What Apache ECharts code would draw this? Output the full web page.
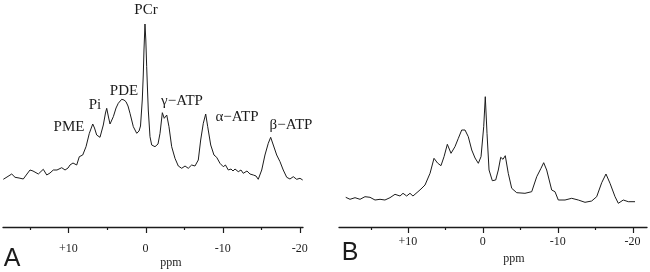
<!DOCTYPE html>
<html>
<head>
<meta charset="utf-8">
<script src="https://cdn.jsdelivr.net/npm/echarts@6/dist/echarts.min.js"></script>
<style>html,body{margin:0;padding:0;background:#fff;}#c{width:650px;height:272px;}</style>
</head>
<body>
<div id="c"></div>
<script>
// Panel A spectrum (chemical shift in ppm, intensity in arbitrary units)
var ppmA = [18.43,17.95,17.34,16.91,16.39,15.84,15.36,14.97,14.58,13.89,13.25,12.80,12.38,11.95,11.47,10.86,10.43,10.04,9.79,9.40,8.92,8.58,8.14,7.71,7.28,6.84,6.61,6.33,5.90,5.47,5.19,5.03,4.80,4.60,4.17,3.82,3.53,3.09,2.79,2.53,2.27,2.01,1.58,1.14,0.84,0.65,0.42,0.29,0.20,0.07,-0.04,-0.15,-0.26,-0.36,-0.58,-0.80,-1.23,-1.62,-1.88,-2.18,-2.43,-2.75,-3.04,-3.39,-3.82,-4.25,-4.69,-5.12,-5.54,-5.98,-6.41,-6.84,-7.15,-7.49,-7.80,-8.06,-8.45,-8.62,-8.87,-9.22,-9.39,-9.65,-10.08,-10.36,-10.73,-11.08,-11.34,-11.60,-12.02,-12.37,-12.67,-13.15,-13.54,-13.97,-14.32,-14.61,-15.06,-15.48,-15.91,-16.22,-16.56,-17.00,-17.17,-17.43,-17.85,-18.30,-18.72,-19.15,-19.59,-20.02,-20.37];
var intA = [47.7,50,53,49.7,49,48,53,57,56,53,57.7,52,54,57,57,59.3,57,59,62,64,62,70.3,72,80.3,93.7,103,99,92,89.7,102,114,118.7,110,103,110.3,119,123.7,127.7,127,125.3,121,113.7,100.3,93.7,96,101,127,152,177,203,187,160.3,137,117,90.3,82,80.3,83,93.7,114.3,108.7,112,100.3,80.3,68.7,61,58.7,61,58.7,62,61,67,87,103.7,113,100.3,82,78,72,69.7,71,63.7,60.3,62,57,58,56,58,55.3,57,53.7,56,53,52,51,47.7,57,72,83.7,89.7,82,72,70,65.3,57,49.7,48,50.3,47.7,48.7,47];

// Panel B spectrum
var ppmB = [18.31,17.74,17.07,16.40,15.74,15.07,14.40,13.73,13.07,12.40,11.73,11.06,10.66,10.17,9.73,9.33,8.66,8.26,7.72,7.05,6.52,6.05,5.59,5.18,4.74,4.25,3.72,3.27,2.82,2.38,1.94,1.48,1.04,0.60,0.24,-0.12,-0.33,-0.56,-0.83,-1.27,-1.72,-2.07,-2.39,-2.70,-3.00,-3.40,-3.86,-4.53,-5.10,-5.63,-6.53,-7.20,-7.77,-8.13,-8.53,-9.20,-9.64,-10.08,-10.98,-11.87,-12.75,-13.65,-14.54,-15.21,-15.88,-16.45,-16.99,-17.66,-18.10,-18.76,-19.43,-20.33];
var intB = [29.7,27.7,29.3,27.7,30.3,29.7,27,27.7,27,29.3,32.7,31,33.7,31,33.7,31,35.3,38,42,53.7,68.7,64,61.3,70.3,82.7,73.7,80.3,88.7,97,97,90.3,77,69,63.7,70.3,100.3,130.3,93.7,57,46.3,47,57,69.7,67.7,71.3,53.7,38.7,34.3,34,33.7,35.3,50.3,58.7,64.3,57,37,35.3,27,27,28.7,27,24.7,26,30.3,44.3,53,43.7,30.3,23.7,27,25.3,25.3];

// Axis ticks and labels
var majorTicks = [-20, -10, 0, 10];
var minorTicks = [-15, -5, 5, 15];
var peakLabels = ['PME', 'Pi', 'PDE', 'PCr', 'γ−ATP', 'α−ATP', 'β−ATP'];
var panelNames = ['A', 'B'];
var axisName = 'ppm';

function pairs(xs, ys) { return xs.map(function (x, i) { return [x, ys[i]]; }); }

var serif = '"Liberation Serif", "Times New Roman", serif';
var sans = '"Liberation Sans", Arial, sans-serif';
var ink = '#1c1c1c';
var plotTop = 7;
var plotH = 220;
var majorLen = 6;
var minorLen = 3;
var rangeA = [-20.41, 18.47];
var rangeB = [-21.93, 19.21];

function mainAxis(gi, r, margin) {
  return {
    type: 'value', gridIndex: gi, position: 'bottom', min: r[0], max: r[1], inverse: true,
    axisLine: { show: true, onZero: false, lineStyle: { color: ink, width: 1.3 } },
    axisTick: { show: false },
    axisLabel: { show: true, customValues: majorTicks, margin: margin, color: ink, fontFamily: serif, fontSize: 12,
      formatter: function (v) { return v > 0 ? '+' + v : String(v); } },
    splitLine: { show: false }
  };
}
function yAx(gi) { return { type: 'value', gridIndex: gi, min: 0, max: plotH, show: false }; }

var chart = echarts.init(document.getElementById('c'), null, { renderer: 'canvas' });

function txt(x, y, s, size, fam) {
  return { type: 'text', x: x, y: y, style: { text: s, fill: ink, font: size + 'px ' + fam, textAlign: 'center', textVerticalAlign: 'middle' } };
}

var labels = [
  txt(69, 127, peakLabels[0], 15, serif),
  txt(95, 105, peakLabels[1], 15, serif),
  txt(124, 91, peakLabels[2], 15, serif),
  txt(146, 10, peakLabels[3], 15, serif),
  txt(182, 101, peakLabels[4], 15, serif),
  txt(237, 117, peakLabels[5], 15, serif),
  txt(291, 125, peakLabels[6], 15, serif),
  txt(171, 263, axisName, 12, serif),
  txt(514, 259, axisName, 12, serif),
  txt(12, 259, panelNames[0], 25, sans),
  txt(350, 253, panelNames[1], 25, sans)
];

chart.setOption({
  animation: false,
  backgroundColor: '#fff',
  grid: [
    { left: 3, top: plotTop, width: 300, height: plotH },
    { left: 339, top: plotTop, width: 308, height: plotH }
  ],
  xAxis: [mainAxis(0, rangeA, 16), mainAxis(1, rangeB, 9)],
  yAxis: [yAx(0), yAx(1)],
  series: [
    { type: 'line', xAxisIndex: 0, yAxisIndex: 0, data: pairs(ppmA, intA), showSymbol: false, lineStyle: { color: ink, width: 1 } },
    { type: 'line', xAxisIndex: 1, yAxisIndex: 1, data: pairs(ppmB, intB), showSymbol: false, lineStyle: { color: ink, width: 1 } }
  ],
  graphic: labels
});

// tick marks placed through the axes' own scales
var ticks = [];
[0, 1].forEach(function (ai) {
  var y0 = chart.convertToPixel({ yAxisIndex: ai }, 0);
  function add(values, len) {
    values.forEach(function (v) {
      var x = Math.round(chart.convertToPixel({ xAxisIndex: ai }, v)) + 0.5;
      ticks.push({ type: 'line', shape: { x1: x, y1: y0, x2: x, y2: y0 + len }, style: { stroke: ink, lineWidth: 1.2 } });
    });
  }
  add(majorTicks, majorLen);
  add(minorTicks, minorLen);
});
chart.setOption({ graphic: labels.concat(ticks) }, { replaceMerge: ['graphic'] });
</script>
</body>
</html>
